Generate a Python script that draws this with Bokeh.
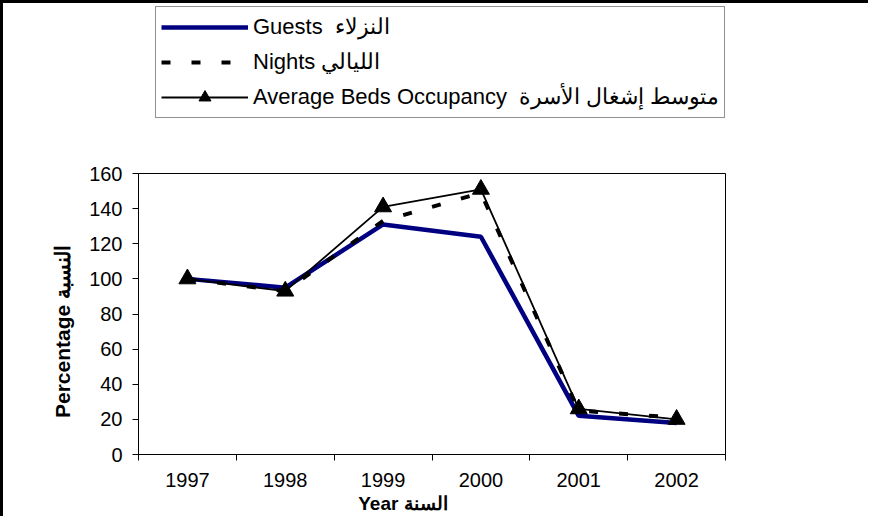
from bokeh.plotting import figure
from bokeh.layouts import column
from bokeh.models import Legend, LegendItem, FixedTicker, Range1d
from bokeh.embed import file_html
from bokeh.resources import INLINE

# ---- data ----
years = [1997, 1998, 1999, 2000, 2001, 2002]
guests = [100, 95, 131, 124, 22, 18]
nights = [100, 93, 133, 149, 25, 21]
beds = [100, 93, 141, 151, 26, 20]
y_ticks = [0, 20, 40, 60, 80, 100, 120, 140, 160]

guests_label = "Guests  النزلاء"
nights_label = "Nights الليالي"
beds_label = "Average Beds Occupancy  متوسط إشغال الأسرة"
x_title = "Year  السنة" + "\u00a0" * 10
y_title = "Percentage  النسبة" + "\u00a0" * 5

FONT = "Liberation Sans"
W = 865
LEG_H = 140
MAIN_H = 373

NAVY = "#000080"
guests_style = dict(line_color=NAVY, line_width=4.5)
nights_style = dict(line_color="black", line_width=4, line_dash="9 21")
beds_style = dict(line_color="black", line_width=1.8)
marker_style = dict(marker="triangle", size=17, fill_color="black", line_color="black")

# ---------------- legend strip (top) ----------------
lf = figure(width=W, height=LEG_H, output_backend="svg", toolbar_location=None,
            x_axis_type=None, y_axis_type=None, min_border=0,
            x_range=Range1d(0, 1), y_range=Range1d(0, 1))
lf.outline_line_color = None
lf.xgrid.visible = False
lf.ygrid.visible = False
lf.background_fill_color = "white"
lf.border_fill_color = "white"

# same series drawn outside this strip's visible range: only their legend glyphs show
lg = lf.line(years, guests, **guests_style)
ln = lf.line(years, nights, **nights_style)
lb = lf.line(years, beds, **beds_style)
lbm = lf.scatter(years, beds, **marker_style)

legend = Legend(items=[
    LegendItem(label=guests_label, renderers=[lg]),
    LegendItem(label=nights_label, renderers=[ln]),
    LegendItem(label=beds_label, renderers=[lb, lbm]),
], location=(17, 25))
legend.label_text_font = FONT
legend.label_text_font_size = "22px"
legend.label_text_color = "black"
legend.glyph_width = 87
legend.glyph_height = 30
legend.label_height = 22
legend.spacing = 5
legend.padding = 5
legend.margin = 0
legend.label_standoff = 5
legend.border_line_color = "#222222"
legend.border_line_width = 1
legend.background_fill_color = "white"
legend.background_fill_alpha = 1
lf.add_layout(legend, "center")

# ---------------- main chart ----------------
x_lo, x_hi = years[0] - 0.5, years[-1] + 0.5
boundaries = [y - 0.5 for y in years] + [years[-1] + 0.5]

p = figure(width=W, height=MAIN_H, output_backend="svg", toolbar_location=None,
           x_range=Range1d(x_lo, x_hi), y_range=Range1d(y_ticks[0], y_ticks[-1]),
           min_border_left=135, min_border_right=143,
           min_border_top=30, min_border_bottom=59)
p.background_fill_color = "white"
p.border_fill_color = "white"
p.outline_line_color = "black"
p.outline_line_width = 1
p.xgrid.visible = False
p.ygrid.visible = False

p.xaxis.ticker = FixedTicker(ticks=years, minor_ticks=boundaries)
p.xaxis.major_tick_out = 0
p.xaxis.major_tick_in = 0
p.xaxis.minor_tick_out = 6
p.xaxis.minor_tick_in = 0
p.xaxis.minor_tick_line_color = "black"
p.xaxis.major_label_standoff = 12
p.xaxis.axis_label = x_title
p.xaxis.axis_label_standoff = 3

p.yaxis.ticker = FixedTicker(ticks=y_ticks, minor_ticks=[])
p.yaxis.major_tick_out = 6
p.yaxis.major_tick_in = 0
p.yaxis.major_label_standoff = 10
p.yaxis.axis_label = y_title
p.yaxis.axis_label_standoff = 12

for ax in (p.xaxis, p.yaxis):
    ax.axis_line_color = "black"
    ax.major_tick_line_color = "black"
    ax.major_label_text_font = FONT
    ax.major_label_text_font_size = "20px"
    ax.major_label_text_color = "black"
    ax.axis_label_text_font = FONT
    ax.axis_label_text_font_style = "bold"
    ax.axis_label_text_color = "black"
p.xaxis.axis_label_text_font_size = "19px"
p.yaxis.axis_label_text_font_size = "21px"

p.line(years, guests, **guests_style)
p.line(years, nights, **nights_style)
p.line(years, beds, **beds_style)
p.scatter(years, beds, **marker_style)

page = column(lf, p, spacing=0)
page.styles = {"border-top": "3px solid black", "border-left": "3px solid black"}

open("out.html", "w").write(file_html(page, INLINE))
